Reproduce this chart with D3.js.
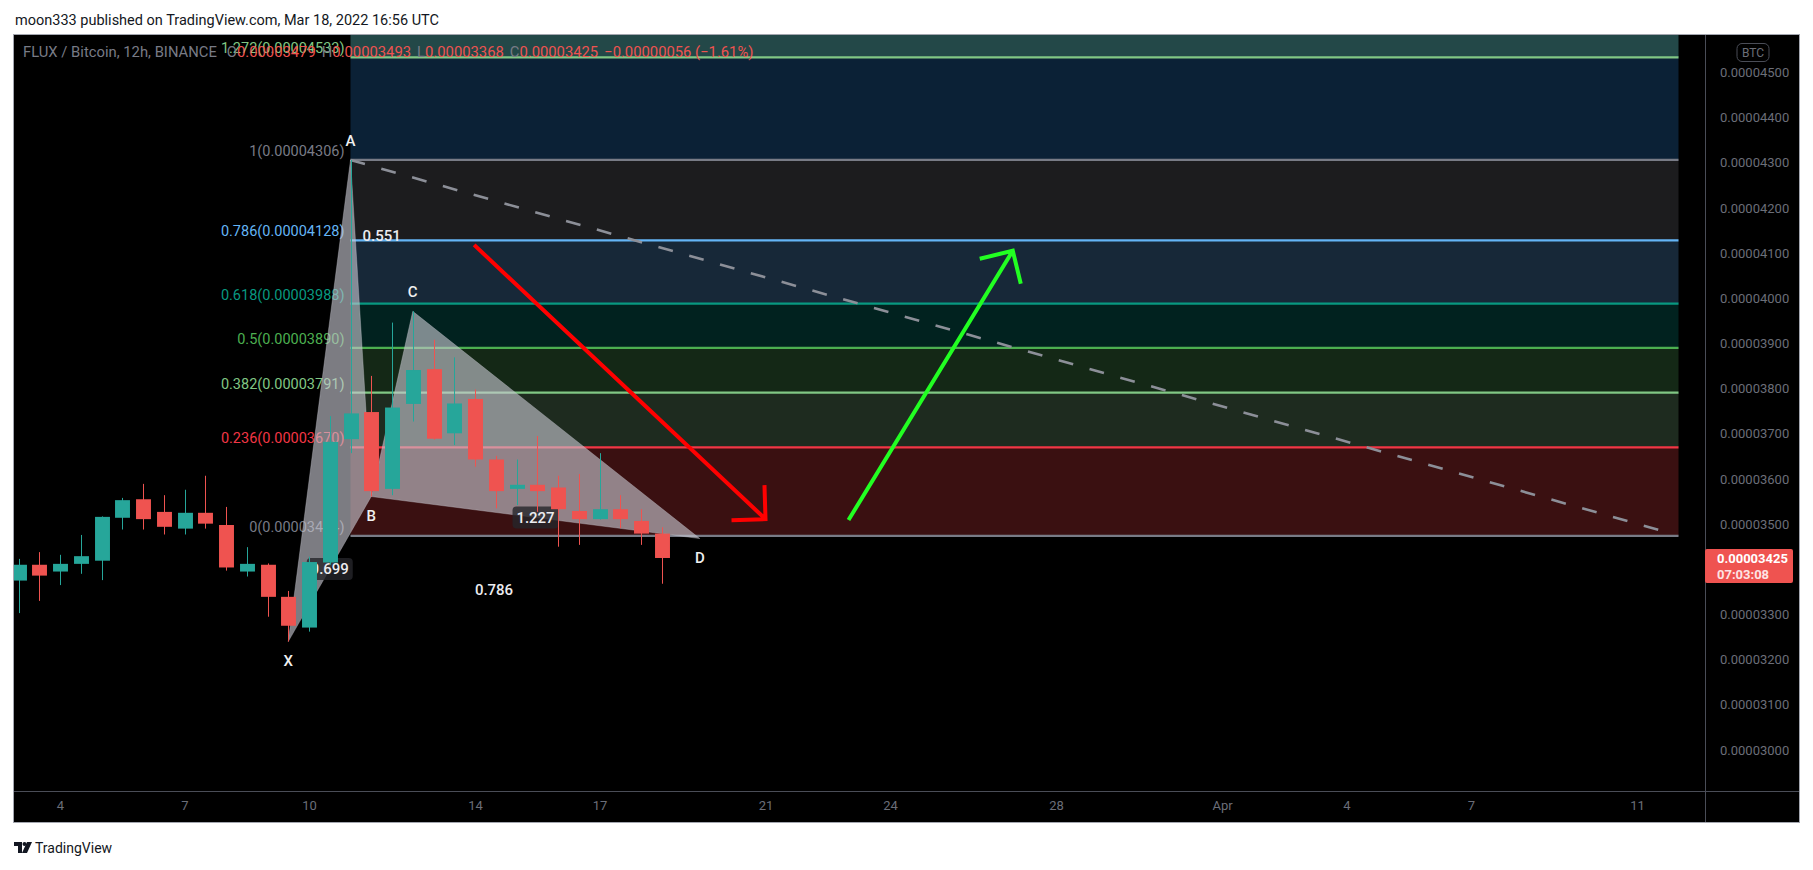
<!DOCTYPE html>
<html><head><meta charset="utf-8">
<script src="https://cdn.jsdelivr.net/npm/d3@7/dist/d3.min.js"></script>
<style>
html,body{margin:0;padding:0;background:#fff;overflow:hidden;}
svg{display:block;}
text{font-family:Roboto,"Noto Sans",sans-serif;}
</style></head><body>
<svg id="c" width="1813" height="870"></svg>
<script>
// ---------------- DATA (prices in satoshi = 1e-8 BTC) ----------------
const candleTimes = [
 "2022-03-03T00:00Z","2022-03-03T12:00Z","2022-03-04T00:00Z","2022-03-04T12:00Z",
 "2022-03-05T00:00Z","2022-03-05T12:00Z","2022-03-06T00:00Z","2022-03-06T12:00Z",
 "2022-03-07T00:00Z","2022-03-07T12:00Z","2022-03-08T00:00Z","2022-03-08T12:00Z",
 "2022-03-09T00:00Z","2022-03-09T12:00Z","2022-03-10T00:00Z","2022-03-10T12:00Z",
 "2022-03-11T00:00Z","2022-03-11T12:00Z","2022-03-12T00:00Z","2022-03-12T12:00Z",
 "2022-03-13T00:00Z","2022-03-13T12:00Z","2022-03-14T00:00Z","2022-03-14T12:00Z",
 "2022-03-15T00:00Z","2022-03-15T12:00Z","2022-03-16T00:00Z","2022-03-16T12:00Z",
 "2022-03-17T00:00Z","2022-03-17T12:00Z","2022-03-18T00:00Z","2022-03-18T12:00Z"];
const opens  = [3375,3410,3395,3412,3419,3514,3555,3527,3490,3525,3498,3395,3410,3339,3271,3415,3688,3748,3578,3766,3843,3701,3777,3643,3578,3587,3581,3529,3511,3533,3507,3479];
const highs  = [3423,3438,3432,3476,3517,3558,3589,3564,3576,3607,3538,3449,3413,3352,3428,3739,4306,3828,3946,3971,3908,3869,3798,3651,3643,3695,3607,3611,3657,3564,3533,3493];
const lows   = [3303,3330,3365,3390,3376,3488,3488,3477,3477,3490,3397,3384,3295,3240,3262,3410,3657,3561,3564,3727,3687,3675,3627,3535,3542,3527,3450,3454,3510,3491,3454,3368];
const closes = [3410,3386,3412,3429,3516,3553,3511,3494,3525,3501,3404,3412,3339,3275,3416,3682,3745,3573,3758,3841,3689,3767,3643,3573,3587,3573,3533,3511,3533,3511,3479,3425];

const fibLevels = [1.618, 1.272, 1, 0.786, 0.618, 0.5, 0.382, 0.236, 0];
const fibValues = [4820, 4533, 4306, 4128, 3988, 3890, 3791, 3670, 3474];
const fibLineColors = ["#2962ff","#81c784","#787b86","#64b5f6","#089981","#4caf50","#81c784","#f23645","#787b86"];
const fibZoneColors = ["#234848","#0b2136","#1c1c1e","#172838","#01221f","#142816","#1e2b1f","#3a1011"];
const fibTimes = ["2022-03-11T00:00Z","2022-04-12T00:00Z"];

const patNames  = ["X","A","B","C","D"];
const patTimes  = ["2022-03-09T12:00Z","2022-03-11T00:00Z","2022-03-11T12:00Z","2022-03-12T12:00Z","2022-03-19T10:00Z"];
const patPrices = [3240,4306,3561,3971,3468];
const patRatios = [["X","B","0.699"],["A","C","0.551"],["B","D","1.227"],["X","D","0.786"]];

const trendTimes  = ["2022-03-11T00:00Z","2022-04-11T21:00Z"];
const trendPrices = [4306,3478];

const redArrowTimes  = ["2022-03-13T23:30Z","2022-03-21T00:00Z"];
const redArrowPrices = [4118,3511];
const greenArrowTimes  = ["2022-03-23T00:00Z","2022-03-26T23:00Z"];
const greenArrowPrices = [3509,4105];

const timeTickDates  = ["2022-03-04","2022-03-07","2022-03-10","2022-03-14","2022-03-17","2022-03-21","2022-03-24","2022-03-28","2022-04-01","2022-04-04","2022-04-07","2022-04-11"];
const timeTickLabels = ["4","7","10","14","17","21","24","28","Apr","4","7","11"];
const priceTicks = [3000,3100,3200,3300,3400,3500,3600,3700,3800,3900,4000,4100,4200,4300,4400,4500];
const lastPrice = 3425;
const countdown = "07:03:08";

// ---------------- LAYOUT ----------------
const W=1813,H=870, L=13,T=34,R=1800,B=823, PA=1705, TA=791;
const svg = d3.select("#c");
const fmt = v => (v/1e8).toFixed(8);
const up = "#26a69a", dn = "#ef5350";

const x = d3.scaleUtc().domain([new Date("2022-03-04T00:00Z"), new Date("2022-04-11T00:00Z")]).range([60,1637]);
const y = d3.scaleLinear().domain([3000,4500]).range([750,72.3]);

svg.append("rect").attr("width",W).attr("height",H).attr("fill","#fff");
svg.append("rect").attr("x",L).attr("y",T).attr("width",R-L).attr("height",B-T).attr("fill","#000");

svg.append("text").attr("x",15).attr("y",25).attr("font-size",14.5).attr("fill","#131722")
  .text("moon333 published on TradingView.com, Mar 18, 2022 16:56 UTC");

const defs = svg.append("defs");
defs.append("clipPath").attr("id","plot").append("rect").attr("x",L).attr("y",T).attr("width",PA-L).attr("height",TA-T);
const g = svg.append("g").attr("clip-path","url(#plot)");

// fib zones
const fx0 = x(new Date(fibTimes[0])), fx1 = x(new Date(fibTimes[1]));
for(let i=0;i<fibValues.length-1;i++){
  const y0=Math.max(T,y(fibValues[i])), y1=y(fibValues[i+1]);
  g.append("rect").attr("x",fx0).attr("width",fx1-fx0).attr("y",y0).attr("height",y1-y0).attr("fill",fibZoneColors[i]);
}
fibValues.forEach((v,i)=>{
  if(y(v) < T) return; // level above the visible pane
  g.append("line").attr("x1",fx0).attr("x2",fx1).attr("y1",y(v)).attr("y2",y(v))
    .attr("stroke",fibLineColors[i]).attr("stroke-width",2.2);
  g.append("text").attr("x",fx0-6).attr("y",y(v)-4).attr("text-anchor","end").attr("font-size",14.5)
    .attr("fill",fibLineColors[i]).text(`${fibLevels[i]}(${fmt(v)})`);
});

// dashed trend line
g.append("line").attr("x1",x(new Date(trendTimes[0]))).attr("y1",y(trendPrices[0]))
  .attr("x2",x(new Date(trendTimes[1]))).attr("y2",y(trendPrices[1]))
  .attr("stroke","#8c8f98").attr("stroke-width",2.6).attr("stroke-dasharray","15 17");

// harmonic pattern
const P = {};
patNames.forEach((n,i)=>P[n]=[x(new Date(patTimes[i])), y(patPrices[i])]);
[["X","A","B"],["B","C","D"]].forEach(tri=>{
  g.append("path").attr("d","M"+tri.map(n=>P[n].join(",")).join("L")+"Z")
   .attr("fill","rgba(200,200,210,0.62)").attr("stroke","rgba(200,200,210,0.35)").attr("stroke-width",1);
});
const boxed = new Set(["X-B","B-D"]);
patRatios.forEach(([a,b,t])=>{
  const mx=(P[a][0]+P[b][0])/2, my=(P[a][1]+P[b][1])/2;
  if(boxed.has(a+"-"+b))
    g.append("rect").attr("x",mx-23).attr("y",my-11).attr("width",46).attr("height",22).attr("rx",4)
      .attr("fill","rgba(38,38,42,0.8)");
  g.append("text").attr("x",mx).attr("y",my+5).attr("text-anchor","middle").attr("font-size",15).attr("font-weight",500)
    .attr("fill","#ececf0").text(t);
});

// candles
const half = (x(new Date("2022-03-04T12:00Z"))-x(new Date("2022-03-04T00:00Z")))*0.36;
const cg = g.append("g");
candleTimes.forEach((t,i)=>{
  const cx = Math.round(x(new Date(t)));
  const col = closes[i]>=opens[i]?up:dn;
  cg.append("line").attr("x1",cx+0.5).attr("x2",cx+0.5).attr("y1",y(highs[i])).attr("y2",y(lows[i])).attr("stroke",col).attr("stroke-width",1);
  const yt=y(Math.max(opens[i],closes[i])), yb=y(Math.min(opens[i],closes[i]));
  cg.append("rect").attr("x",cx+0.5-half).attr("width",half*2).attr("y",yt).attr("height",Math.max(1,yb-yt)).attr("fill",col);
});

// point letters
const highPts = {A:true,C:true};
patNames.forEach(n=>{
  g.append("text").attr("x",P[n][0]).attr("y",P[n][1]+(highPts[n]?-14:24)).attr("text-anchor","middle")
   .attr("font-size",15).attr("font-weight",500).attr("fill","#f0f0f0").text(n);
});

// arrows
function arrow(times,prices,color){
  const p0=[x(new Date(times[0])),y(prices[0])], p1=[x(new Date(times[1])),y(prices[1])];
  const ang=Math.atan2(p0[1]-p1[1],p0[0]-p1[0]), len=34, spr=Math.PI/4;
  const a1=[p1[0]+len*Math.cos(ang+spr),p1[1]+len*Math.sin(ang+spr)];
  const a2=[p1[0]+len*Math.cos(ang-spr),p1[1]+len*Math.sin(ang-spr)];
  g.append("path").attr("d",`M${p0}L${p1}M${a1}L${p1}L${a2}`).attr("fill","none")
   .attr("stroke",color).attr("stroke-width",4).attr("stroke-linecap","butt").attr("stroke-linejoin","miter");
}
arrow(redArrowTimes,redArrowPrices,"#ff0000");
arrow(greenArrowTimes,greenArrowPrices,"#22ff22");

// legend
const lg = svg.append("text").attr("x",23).attr("y",57).attr("font-size",14.8).attr("fill","#787b86");
lg.append("tspan").text("FLUX / Bitcoin, 12h, BINANCE");
[["O","0.00003479"],["H","0.00003493"],["L","0.00003368"],["C","0.00003425"]].forEach(([k,v],i)=>{
  lg.append("tspan").attr("dx",i===0?10:6).text(k);
  lg.append("tspan").attr("fill",dn).text(v);
});
lg.append("tspan").attr("dx",6).attr("fill",dn).text("\u22120.00000056 (\u22121.61%)");

// frame lines
svg.append("line").attr("x1",PA+0.5).attr("x2",PA+0.5).attr("y1",T).attr("y2",B).attr("stroke","#4a4d57");
svg.append("line").attr("x1",L).attr("x2",R).attr("y1",TA+0.5).attr("y2",TA+0.5).attr("stroke","#4a4d57");
svg.append("rect").attr("x",L+0.5).attr("y",T+0.5).attr("width",R-L-1).attr("height",B-T-1)
  .attr("fill","none").attr("stroke","#a3a6af");

// price axis
const box = {y0:549, y1:583};
const ticks = priceTicks.filter(v=>{const yy=y(v); return yy<box.y0-8||yy>box.y1+8;});
const ya = svg.append("g").attr("transform",`translate(${PA+12},0)`)
  .call(d3.axisRight(y).tickValues(ticks).tickSize(0).tickFormat(fmt));
ya.select(".domain").remove();
ya.selectAll("text").attr("font-size",13).attr("fill","#6b6e78").attr("font-family","Roboto,sans-serif").attr("dx",0);

// BTC badge
svg.append("rect").attr("x",1737).attr("y",43.5).attr("width",32).attr("height",18).attr("rx",5)
  .attr("fill","none").attr("stroke","#4a4d57");
svg.append("text").attr("x",1753).attr("y",57).attr("text-anchor","middle").attr("font-size",12).attr("fill","#6b6e78").text("BTC");

// last price label
const ly = y(lastPrice);
svg.append("rect").attr("x",PA).attr("y",ly-9).attr("width",88).attr("height",34).attr("rx",2).attr("fill",dn);
svg.append("text").attr("x",PA+12).attr("y",ly+5).attr("font-size",13).attr("font-weight","bold").attr("fill","#fff").text(fmt(lastPrice));
svg.append("text").attr("x",PA+12).attr("y",ly+21).attr("font-size",13).attr("font-weight","bold").attr("fill","#fde3e3").text(countdown);

// time axis
const xa = svg.append("g").attr("transform",`translate(0,${TA})`)
  .call(d3.axisBottom(x).tickValues(timeTickDates.map(d=>new Date(d+"T00:00Z"))).tickSize(0)
  .tickFormat((d,i)=>timeTickLabels[i]));
xa.select(".domain").remove();
xa.selectAll("text").attr("font-size",13).attr("fill","#6b6e78").attr("font-family","Roboto,sans-serif").attr("dy","1.2em");

// TradingView footer
const lgG = svg.append("g").attr("transform","translate(14,842)").attr("fill","#131722");
lgG.append("path").attr("d","M0 0H8V11H4V4H0Z");
lgG.append("circle").attr("cx",10.5).attr("cy",2).attr("r",2);
lgG.append("path").attr("d","M13 0H18L13 11H8Z");
svg.append("text").attr("x",35).attr("y",853).attr("font-size",14).attr("fill","#131722").text("TradingView");
</script></body></html>
